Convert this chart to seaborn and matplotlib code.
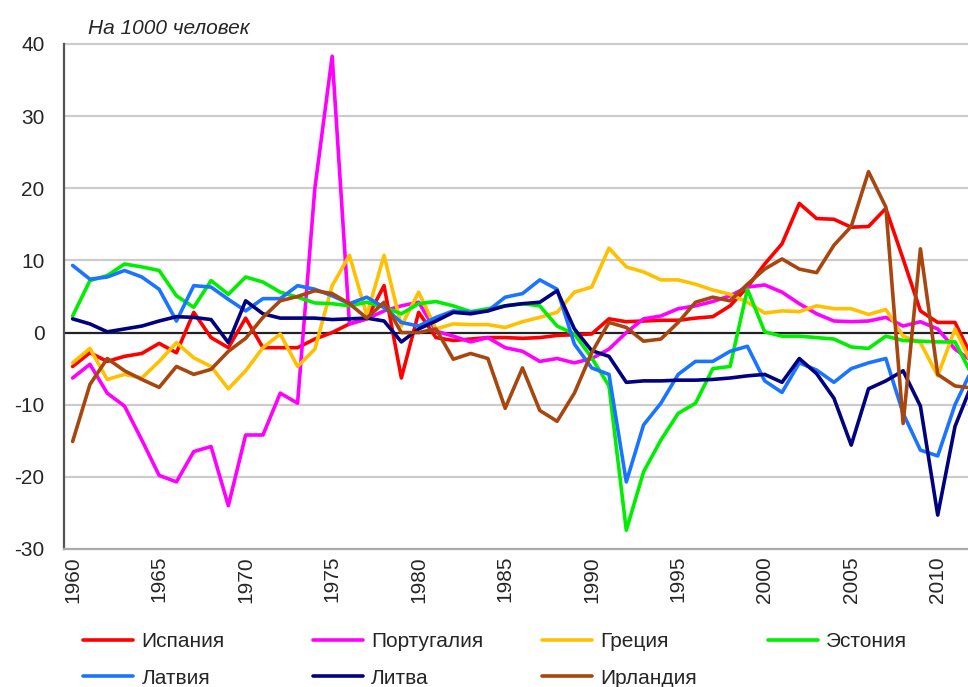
import pandas as pd
import matplotlib
matplotlib.use("Agg")
import matplotlib.pyplot as plt
from matplotlib.lines import Line2D
import seaborn as sns

# годы
years = list(range(1960, 2013))

# сальдо миграции, на 1000 человек
spain = [-4.7, -2.8, -4.0, -3.3, -2.9, -1.5, -2.8, 2.8, -0.7, -2.1,
         2.0, -2.1, -2.1, -2.1, -0.9, 0.0, 1.2, 1.9, 6.5, -6.3,
         2.8, -0.7, -1.1, -0.9, -0.7, -0.7, -0.8, -0.7, -0.4, -0.3,
         -0.2, 1.9, 1.5, 1.6, 1.7, 1.7, 2.0, 2.2, 3.7, 6.3,
         9.5, 12.3, 17.9, 15.8, 15.7, 14.6, 14.7, 17.2, 10.2, 3.0,
         1.4, 1.4, -3.5]
portugal = [-6.3, -4.4, -8.4, -10.2, -14.9, -19.8, -20.7, -16.5, -15.8, -24.0,
            -14.2, -14.2, -8.4, -9.8, 20.0, 38.3, 1.2, 1.9, 3.0, 3.7,
            4.2, 0.2, -0.5, -1.3, -0.7, -2.1, -2.6, -4.0, -3.6, -4.2,
            -3.6, -2.3, 0.0, 1.9, 2.3, 3.3, 3.7, 4.3, 5.1, 6.3,
            6.6, 5.6, 4.0, 2.6, 1.6, 1.5, 1.6, 2.1, 0.9, 1.5,
            0.5, -2.3, -4.0]
greece = [-4.2, -2.2, -6.5, -5.8, -6.3, -4.0, -1.4, -3.5, -4.7, -7.8,
          -5.3, -2.1, -0.2, -4.7, -2.3, 6.5, 10.7, 2.4, 10.7, 0.9,
          5.6, 0.5, 1.2, 1.1, 1.1, 0.7, 1.5, 2.1, 2.8, 5.6,
          6.3, 11.7, 9.1, 8.4, 7.3, 7.3, 6.7, 5.9, 5.3, 4.2,
          2.7, 3.0, 2.9, 3.7, 3.3, 3.3, 2.5, 3.2, -0.5, -1.4,
          -6.0, 0.5, -4.5]
estonia = [2.3, 7.2, 7.9, 9.5, 9.1, 8.6, 5.1, 3.5, 7.2, 5.3,
           7.7, 7.0, 5.6, 4.9, 4.1, 4.0, 3.7, 4.2, 3.5, 2.6,
           4.0, 4.3, 3.7, 2.9, 3.3, 3.7, 4.0, 3.7, 0.9, -0.2,
           -3.5, -7.4, -27.4, -19.3, -14.9, -11.2, -9.8, -5.0, -4.7, 6.0,
           0.1, -0.5, -0.5, -0.7, -0.9, -2.0, -2.2, -0.5, -1.1, -1.2,
           -1.3, -1.3, -6.0]
latvia = [9.3, 7.4, 7.7, 8.6, 7.7, 6.0, 1.6, 6.5, 6.3, 4.6,
          3.0, 4.7, 4.7, 6.5, 6.0, 5.1, 4.0, 4.9, 3.5, 1.4,
          0.9, 2.1, 3.0, 2.8, 3.0, 4.9, 5.4, 7.3, 6.0, -1.6,
          -4.9, -5.8, -20.7, -12.8, -9.8, -5.8, -4.0, -4.0, -2.6, -1.9,
          -6.7, -8.3, -4.2, -5.2, -6.9, -5.0, -4.2, -3.6, -11.2, -16.3,
          -17.1, -10.0, -5.0]
lithuania = [1.9, 1.2, 0.1, 0.5, 0.9, 1.6, 2.2, 2.1, 1.8, -1.4,
             4.4, 2.6, 2.0, 2.0, 2.0, 1.8, 1.9, 2.0, 1.6, -1.3,
             0.5, 1.6, 2.8, 2.6, 3.0, 3.7, 4.0, 4.2, 5.8, 0.5,
             -2.5, -3.3, -6.9, -6.7, -6.7, -6.6, -6.6, -6.5, -6.3, -6.0,
             -5.8, -6.9, -3.6, -5.7, -9.1, -15.6, -7.8, -6.7, -5.3, -10.2,
             -25.3, -13.0, -7.0]
ireland = [-15.1, -7.2, -3.6, -5.3, -6.5, -7.6, -4.7, -5.8, -5.1, -2.6,
           -0.8, 2.1, 4.4, 5.0, 5.8, 5.4, 4.0, 2.0, 4.2, 0.0,
           0.0, 0.5, -3.7, -2.9, -3.6, -10.5, -4.9, -10.8, -12.3, -8.4,
           -2.8, 1.4, 0.7, -1.2, -0.9, 1.4, 4.2, 4.9, 4.4, 6.7,
           8.8, 10.2, 8.8, 8.3, 12.1, 14.7, 22.3, 17.4, -12.6, 11.6,
           -5.8, -7.4, -7.7]

countries = ["Испания", "Португалия", "Греция", "Эстония", "Латвия", "Литва", "Ирландия"]
series = [spain, portugal, greece, estonia, latvia, lithuania, ireland]
colors = ["#FF0000", "#FF00FF", "#FFC000", "#00EE00", "#1A74FF", "#000080", "#A8460F"]
palette = dict(zip(countries, colors))

df = pd.concat([pd.DataFrame({"Год": years, "Значение": vals, "Страна": name})
                for name, vals in zip(countries, series)], ignore_index=True)

sns.set_style("white")
plt.rcParams["font.family"] = ["Liberation Sans", "DejaVu Sans"]
plt.rcParams["axes.unicode_minus"] = False

fig = plt.figure(figsize=(9.68, 6.87), dpi=100)
ax = fig.add_axes([0.0661, 0.2009, 0.9339, 0.7351])

for y in range(-20, 41, 10):
    if y != 0:
        ax.axhline(y, color="#CCCCCC", lw=1.6, zorder=0, clip_on=False)
ax.axhline(0, color="#222222", lw=1.6, zorder=1)

sns.lineplot(data=df, x="Год", y="Значение", hue="Страна", hue_order=countries,
             palette=palette, linewidth=2.6, legend=False, ax=ax, zorder=2)

ax.set_xlim(1959.5, 2011.75)
ax.set_ylim(-30, 40)
ax.set_yticks(range(-30, 41, 10))
ax.set_xticks(range(1960, 2011, 5))
ax.tick_params(axis="y", length=0, pad=14, labelsize=15)
ax.tick_params(axis="x", length=0, pad=5, labelsize=15, labelrotation=90)
ax.set_xlabel("")
ax.set_ylabel("")

for s in ["top", "right"]:
    ax.spines[s].set_visible(False)
ax.spines["left"].set_color("#555555")
ax.spines["left"].set_linewidth(1.6)
ax.spines["bottom"].set_color("#AAAAAA")
ax.spines["bottom"].set_linewidth(1.6)

fig.text(0.091, 0.958, "На 1000 человек", fontsize=15, style="italic", va="center")

# легенда: четыре столбца с равным шагом, как в Excel
col_x = [0.086, 0.323, 0.560, 0.793]
columns = [[0, 4], [1, 5], [2, 6], [3]]
for cx, idx in zip(col_x, columns):
    handles = [Line2D([0], [0], color=colors[i], lw=2.6) for i in idx]
    labels = [countries[i] for i in idx]
    fig.legend(handles, labels, loc="upper left", bbox_to_anchor=(cx, 0.080),
               frameon=False, fontsize=15, handlelength=2.4, handletextpad=0.4,
               labelspacing=0.85, borderpad=0, borderaxespad=0)

fig.savefig("out.png", dpi=100)
